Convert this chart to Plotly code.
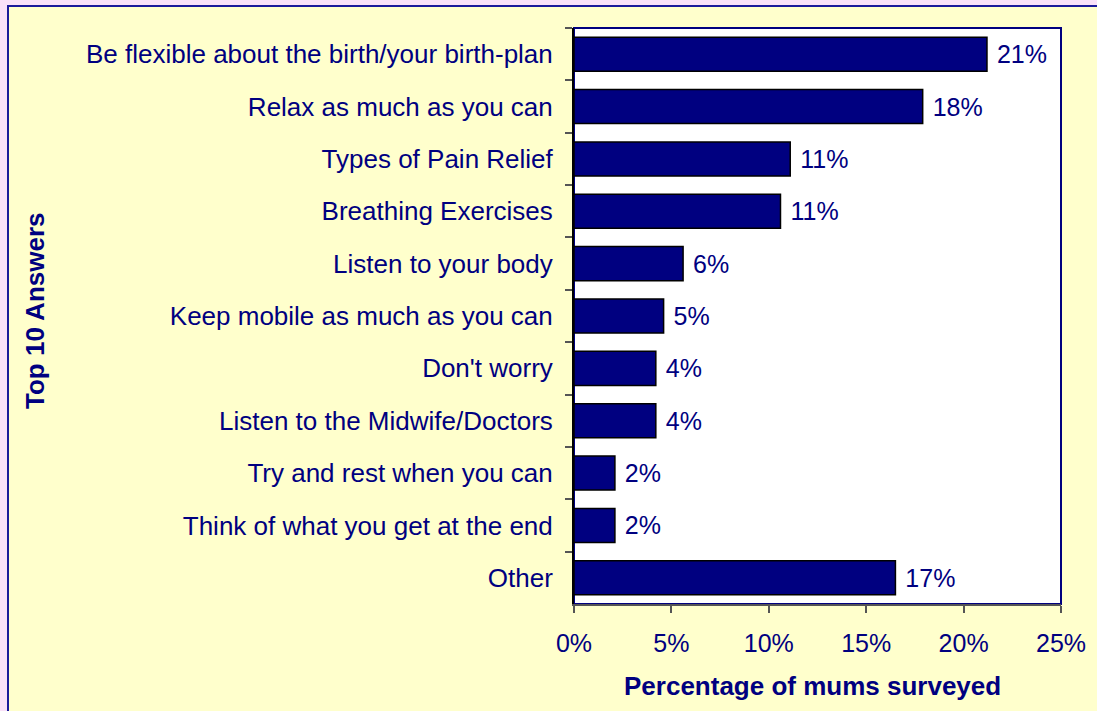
import plotly.graph_objects as go

categories = [
    "Be flexible about the birth/your birth-plan",
    "Relax as much as you can",
    "Types of Pain Relief",
    "Breathing Exercises",
    "Listen to your body",
    "Keep mobile as much as you can",
    "Don't worry",
    "Listen to the Midwife/Doctors",
    "Try and rest when you can",
    "Think of what you get at the end",
    "Other",
]
values = [0.212, 0.179, 0.111, 0.106, 0.056, 0.046, 0.042, 0.042, 0.021, 0.021, 0.165]
x_ticks = [0, 0.05, 0.10, 0.15, 0.20, 0.25]
x_title = "Percentage of mums surveyed"
y_title = "Top 10 Answers"

NAVY = "#000080"
FONT = "Liberation Sans, Arial, sans-serif"

W, H = 1097, 711
L, R, T, B = 574, 36, 28, 107
pw, ph = W - L - R, H - T - B

def px_x(p):
    return (p - L) / pw

def px_y(p):
    return (H - B - p) / ph

fig = go.Figure()
fig.add_trace(go.Bar(
    y=categories, x=values, orientation="h",
    marker=dict(color=NAVY, line=dict(color="black", width=1.5)),
    width=0.65,
    texttemplate="\u00a0%{x:.0%}", textposition="outside",
    textfont=dict(color=NAVY, size=25, family=FONT),
    cliponaxis=False,
    hoverinfo="skip",
))

shapes = [
    dict(type="rect", xref="paper", yref="paper", layer="below",
         x0=px_x(8), x1=px_x(W + 20), y0=px_y(H + 20), y1=px_y(6),
         fillcolor="#FFFFCC", line=dict(color="#1A1A9A", width=2)),
    dict(type="rect", xref="paper", yref="paper", layer="below",
         x0=0, x1=1, y0=0, y1=1,
         fillcolor="white", line=dict(color=NAVY, width=2)),
]

fig.update_layout(
    width=W, height=H,
    margin=dict(l=L, r=R, t=T, b=B, autoexpand=False),
    paper_bgcolor="#F9E1F9",
    plot_bgcolor="white",
    showlegend=False,
    font=dict(family=FONT, color=NAVY, size=25),
    shapes=shapes,
    xaxis=dict(
        range=[0, 0.25], tickvals=x_ticks, tickformat=".0%",
        ticks="outside", ticklen=7, tickcolor="#555555", tickwidth=1.5,
        showgrid=False, zeroline=False,
        showline=True, linecolor="#555555", linewidth=1.5,
        tickfont=dict(size=25, color=NAVY, family=FONT),
        ticklabelstandoff=9,
    ),
    yaxis=dict(
        autorange="reversed", tickson="boundaries",
        ticks="outside", ticklen=7, tickcolor="#555555", tickwidth=1.5,
        showgrid=False, zeroline=False,
        showline=True, linecolor="black", linewidth=2,
        tickfont=dict(size=26, color=NAVY, family=FONT),
        ticklabelstandoff=14,
    ),
    annotations=[
        dict(text="<b>" + x_title + "</b>", xref="paper", yref="paper",
             x=px_x(812), y=px_y(686), showarrow=False,
             font=dict(size=26, color=NAVY, family=FONT), xanchor="center", yanchor="middle"),
        dict(text="<b>" + y_title + "</b>", xref="paper", yref="paper",
             x=px_x(35), y=px_y(311), showarrow=False, textangle=-90,
             font=dict(size=26, color=NAVY, family=FONT), xanchor="center", yanchor="middle"),
    ],
)

fig.write_html("out.html", config={"displayModeBar": False},
               post_script="document.body.style.margin='0';")
